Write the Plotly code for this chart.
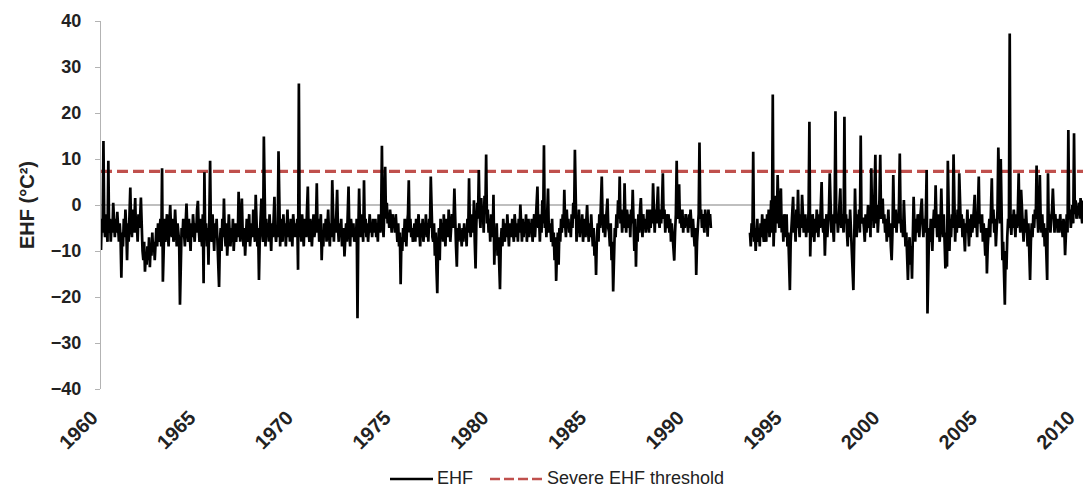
import plotly.graph_objects as go

# Excess Heat Factor (°C²), semi-monthly values (24 per year), one row per year
ehf_1960s = [
    -9.8, -3, -6, 13.9, -4, -7, -2, -5, -8, 9.6, -6, -3, -8, -4, -6, 0.5, -5, -7, -3, -6, -1.5, -5, -8, -4,
    -7, -15.8, -6, -9, -3, -7, -1, -5, -12, -4, -8, -2, 3.8, -5, -7, -1, -6, -3, 1.5, -6, -4, -8, -2, -5,
    -3, 1.6, -7, -10, -12, -8, -14.5, -11, -13, -9, -12, -7, -13.5, -9, -11, -6, -10, -8, -12, -7, -5, -9, -4, -8,
    -6, -3, -9, 8, -16.7, -7, -3, -8, -5, -2, -6, -9, -4, 0, -5, -7, -3, -8, -6, -1, -5, -9, -4, -7,
    -8, -21.7, -9, -5, -7, -3, -6, -9, -4, 0.3, -5, -8, -3, -6, -10, -4, -7, -2, -5, -8, -4, -6, -1, 0.9,
    -5, -8, -3, -6, -9, -2, -17, 7.1, -7, -4, -9, -5, -13, -3, 9.6, -6, -8, -2, -5, -10, -4, -7, -3, -9,
    -11, -17.8, -8, -5, -10, -3, -7, 1.4, -6, -9, -4, -11, -7, -2, -6, -9, -5, -8, -3, -10, -6, -4, -8, -5,
    -7, 2.9, -4, -8, -3, 1.4, -6, -9, -5, -11, -7, -3, -8, -5, -2, -9, -6, -4, -7, -1, -5, -8, 2.2, -6,
    -9, -5, -16.3, -7, -3, 1.4, -6, -8, 14.9, -5, -9, -3, -7, -4, -8, -2, -6, -10, -4, -7, -3, 1.8, -6, -8,
    -5, -7, 11.7, -6, -9, -3, -5, -8, -2, -6, -4, -9, -5, -1, -7, -4, -8, -3, -6, -9, -2, -5, -7, -4,
]
ehf_1970s = [
    -6, -3, -14.1, 26.4, -7, -4, -8, -2, -6, -9, -3, -5, -7, -1, 4, -6, -8, -3, -5, -9, -4, -2, -7, -5,
    -4, 4.7, -6, -3, -8, -5, -2, -12, -6, -9, -4, -7, -3, -8, -5, -1, -6, -9, -4, -7, 5.4, -5, -8, -3,
    -6, -2, 3.3, -5, -8, -4, -7, -3, -9, -6, -5, -11.2, -7, -4, -8, -2, 4, -6, -9, -3, -5, -7, -4, -8,
    -5, -8, -3, -24.6, -6, 3.6, -4, -7, -2, -5, -8, 5.4, -6, -3, -7, -4, -8, -5, -2, -6, -4, -7, -3, -5,
    -6, -3, -7, -4, -8, -2, -5, -6, -3, 12.9, -4, -7, -1, 8.3, -3, 0.5, -4, -2, -5, -1, -3, -6, -2, -4,
    -3, -6, -2, -5, -8, -4, -9, -6, -17.2, -7, -10, -5, -8, -3, -6, -9, -4, -2, 5.4, -6, -3, -7, -5, -8,
    -6, -4, -8, -3, -7, -5, -2, -6, -9, -4, -7, -3, -8, -5, -6, -2, -7, -4, -8, -3, -5, 6.2, -4, -7,
    -8, -4, -11, -6, -14, -19.2, -9, -5, -12, -3, -7, -4, -8, -2, -6, -9, -3, -5, -7, -1, -4, -8, -5, -2,
    -5, -3, 3.6, -6, -9, -13.4, -5, -8, -4, -7, -6, -9, -5, -8, -4, -7, -5, -9, -3, -6, 5.8, -4, -7, -2,
    -3, -6, 1, -8, -13.8, -4, 0.5, -3, 7.6, -2, -5, 1.5, -3, -1, -6, 2, -2, 11, -4, -1, -6, -3, -8, -2,
]
ehf_1980s = [
    -5, -7, 2.2, -13, -6, -9, -4, -11, -7, -12, -18.3, -8, -5, -9, -3, -6, -8, -4, -7, -2, -6, -9, -4, -5,
    -7, -3, -6, -8, -2, -5, -7, -4, -8, -3, -6, 0.1, -5, -8, -3, -7, -4, -6, -2, -8, -5, -3, -7, -4,
    -6, -3, -8, -5, -2, -7, -4, -1, 4, -5, -3, -8, -2, -6, 1, -4, 13, -5, -2, -7, -3, 3.6, -6, -4,
    -5, -8, -3, -9, -6, -12, -7, -16.5, -10, -6, -13, -5, -8, -3, -6, -2, -5, 3.3, -4, -7, -1, -5, -3, -6,
    -4, -7, -2, -5, 0.5, -3, 12, -5, -8, -3, -6, -1, -7, -4, -6, -2, -8, -5, -3, -7, -4, 0, -5, -8,
    -4, -7, -2, -6, -9, -5, -11, -8, -15.2, -7, -4, -8, -2, -5, -1, 6.2, -3, -6, -2, -7, -4, -1, 1.4, -5,
    -6, -9, -4, -12, -8, -18.8, -10, -5, -7, -2, -5, 1, -3, 6.2, -4, -1, -6, -2, -5, 4.7, -3, -6, -1, -4,
    -5, -2, -7, -1, -4, 3.3, -6, -10, -3, -13.4, -5, -8, -2, -6, -1, 1.5, -4, -7, -2, -5, -3, -6, -4, -1,
    -3, -6, -1, -5, -2, -4, 4.7, -3, -6, -1, -4, 0, 4, -3, -5, -1, -4, 0.5, 6.9, -3, -1, -6, -2, -4,
    -5, -2, -6, -3, -8, -4, -7, -10, -12.1, -6, -2, 9.6, -3, -1, 4.5, -4, -2, -5, -1, -6, -3, -5, -2, -4,
]
ehf_1990_1991 = [
    -3, -6, -2, -5, -1, -4, -7, -3, -6, -9, -5, -15.2, -8, -4, -2, 13.6, -3, -1, -5, -2, -4, -6, -1, -3,
    -2, -6.9, -1, -4, -2, -5,
]
# record resumes in the second quarter of 1993
ehf_1993_1999 = [
    -6, -9, -4, -7, 11.6, -8, -5, -10, -6, -3, -8, -5, -9, -4, -7, -2, -6, -8, -3,
    -5, -8, -2, -6, -1, -7, -4, 1, -6, 24, -9, -3, -6, 2, -4, 6.5, -2, -5, 1, 3.6, -6, -3, -8, -2,
    -4, -7, -2, -9, -6, -12, -18.5, -8, -5, -2, 1.8, -6, -3, -8, -1, -5, 3.3, -4, -7, -2, -5, 2.2, -3, -6,
    -5, -2, -7, -3, -6, -1, 18.1, -11.2, -4, -7, -2, -5, -8, -3, -6, -1, -4, -7, -2, -5, 0, 5, -4, -6,
    -3, -11, -5, -2, -7, -4, -1, 6.9, -3, -6, -2, -5, -8, -1, 20.4, -4, -2, -6, -3, 0, 3.6, -5, -2, -4,
    -6, 19.2, -4, -2, -5, -9, -3, -7, -1, -6, -10, -14, -18.5, -8, 3.6, -4, -7, -2, -5, -1, -6, 15.1, -4, -3,
    -3, -5, -8, -2, -6, -4, 0, -5, -2, -7, 8, -3, -1, -5, 2, 10.9, -4, 0, -6, -2, 1, 10.9, -3, -1,
]
ehf_2000s = [
    1.4, -4, -2, -6, -3, -8, -5, -1, -7, -4, -9, -12, -6, 6.5, -3, -5, -1, -6, -2, -4, 0, 11.2, -3, -6,
    -4, -7, 1.1, -5, -9, -6, -12, -16.3, -10, -7, -13, -9, -16, -6, 1.8, -4, -8, -3, -6, -2, -5, -7, -3, -1,
    1.4, -4, -7, -3, -6, -2, 7.6, -23.6, -9, -5, -8, -3, -6, -10, -4, -1, -5, 4.3, -3, -7, -2, -5, -8, -4,
    3.6, -4, -7, -2, -9, -13.8, -6, -13.4, 9.6, -5, -10, -3, -7, -2, -5, 11, -4, -8, -3, -6, -1, -5, 6.9, -3,
    -5, -2, -7, -3, -8, -10.1, -4, -6, -1, -5, -9, -3, -7, -2, -6, -4, -1, 2.2, -5, -3, -7, -2, 6.2, -4,
    -3, -6, -2, -8, -4, -7, -11, -5, -14.9, -9, -6, -3, -7, -2, 5.8, -4, -1, -6, -3, -9, -5, -1, 12.5, -2,
    -4, 10, -6, -12, -8, -16, -21.7, -10, -14, -7, -3, -5, 37.3, -4, -6.5, -2, -5, -1, -4, -7, -2, -5, -1, 6.9,
    -3, -6, 3.3, -2, -5, -8, -3, -6, -1, -5, -9, -4, -12, -16.3, -8, -4, -7, -2, -5, -1, -3, 8.6, -2, -6,
    -4, 6.5, -3, -6, -2, -7, -4, -9, -5, -11, -16.3, 6.9, -5, -2, -6, -3, -1, 3.6, -4, -6, -2, -5, -3, -6,
    -3, -6, -2, -5, -4, -7, -3, -5, -10.9, -4, -2, -6, 16.3, -3, -1, -5, -2, 0, -4, 15.6, -2, 1, -3, -1,
]
ehf_2010 = [-2, 0.5, -3, 1.5, -2, -4, 1]

severe_threshold = 7.3
steps_per_year = 24
first_start = 1960.0
second_start = 1993 + 5 / 24

year_ticks = list(range(1960, 2011, 5))
year_labels = [str(y) for y in year_ticks]

first_part = ehf_1960s + ehf_1970s + ehf_1980s + ehf_1990_1991
second_part = ehf_1993_1999 + ehf_2000s + ehf_2010

x_first = [first_start + i / steps_per_year for i in range(len(first_part))]
x_second = [second_start + i / steps_per_year for i in range(len(second_part))]

x_all = x_first + [None] + x_second
y_all = first_part + [None] + second_part
x_end = x_second[-1]

FONT = "Liberation Sans, Arial, sans-serif"
TEXT = "#222"
RED = "#c0504d"

fig = go.Figure()
fig.add_trace(go.Scatter(
    x=[first_start, x_end], y=[severe_threshold, severe_threshold],
    mode="lines", name="Severe EHF threshold",
    line=dict(color=RED, width=3.2, dash="11px,5px"),
    showlegend=False,
))
fig.add_trace(go.Scatter(
    x=x_all, y=y_all, mode="lines", name="EHF",
    line=dict(color="black", width=2.7),
    connectgaps=False, showlegend=False,
))

# legend drawn by hand below the plot
PLOT_L, PLOT_R, PLOT_T, PLOT_B = 101, 1083, 21, 389


def px_x(px):
    return (px - PLOT_L) / (PLOT_R - PLOT_L)


def px_y(py):
    return (PLOT_B - py) / (PLOT_B - PLOT_T)


fig.add_shape(type="line", xref="paper", yref="paper",
              x0=px_x(390), x1=px_x(433), y0=px_y(479), y1=px_y(479),
              line=dict(color="black", width=2.5))
fig.add_shape(type="line", xref="paper", yref="paper",
              x0=px_x(490), x1=px_x(546), y0=px_y(479), y1=px_y(479),
              line=dict(color=RED, width=2.5, dash="10px,4px"))
fig.add_annotation(xref="paper", yref="paper", x=px_x(435), y=px_y(478),
                   xanchor="left", yanchor="middle", showarrow=False,
                   text="EHF", font=dict(family=FONT, size=18, color=TEXT))
fig.add_annotation(xref="paper", yref="paper", x=px_x(545), y=px_y(478),
                   xanchor="left", yanchor="middle", showarrow=False,
                   text="Severe EHF threshold", font=dict(family=FONT, size=18, color=TEXT))

fig.update_layout(
    width=1087, height=492,
    margin=dict(l=PLOT_L, r=1087 - PLOT_R, t=PLOT_T, b=492 - PLOT_B),
    paper_bgcolor="white", plot_bgcolor="white",
    font=dict(family=FONT, size=18, color=TEXT),
    showlegend=False,
)
fig.update_xaxes(
    range=[first_start, x_end], tickvals=year_ticks, ticktext=year_labels,
    tickangle=-45, showline=False, showgrid=False, zeroline=False, ticks="",
    tickfont=dict(family=FONT, size=20, color=TEXT, weight="bold"),
    ticklabelshift=-9, ticklabelstandoff=12, ticklabeloverflow="allow",
)
fig.update_yaxes(
    range=[-40, 40], dtick=10, showgrid=False,
    showline=True, linecolor="#b3b3b3", linewidth=1,
    ticks="outside", ticklen=5, tickcolor="#b3b3b3",
    zeroline=True, zerolinecolor="#bfbfbf", zerolinewidth=1.5,
    tickfont=dict(family=FONT, size=18, color=TEXT, weight="bold"),
    ticklabelstandoff=10,
    title=dict(text="EHF (°C²)", standoff=10,
               font=dict(family=FONT, size=20, color=TEXT, weight="bold")),
)

fig.write_html("out.html")
